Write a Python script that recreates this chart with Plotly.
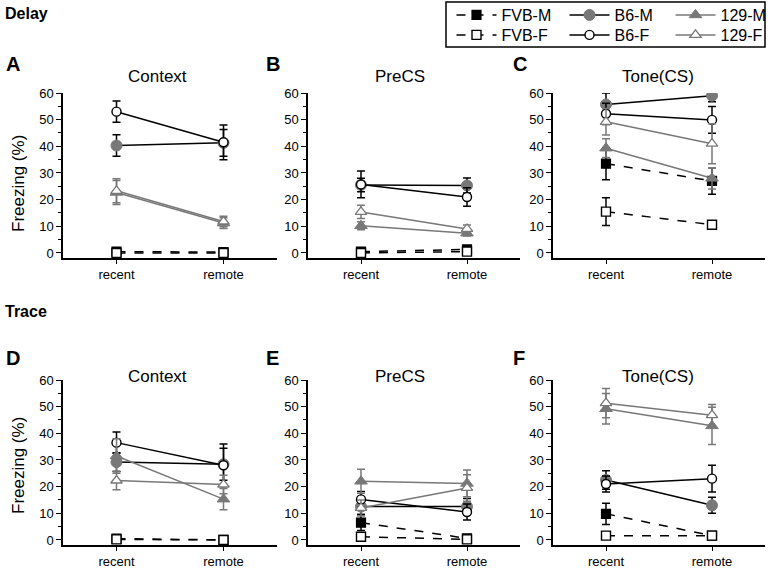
import plotly.graph_objects as go

W, H = 774, 568

# ---------------- data ----------------
phases = ["recent", "remote"]
groups = ["FVB-M", "FVB-F", "B6-M", "B6-F", "129-M", "129-F"]
panel_titles = ["Context", "PreCS", "Tone(CS)", "Context", "PreCS", "Tone(CS)"]
panel_letters = ["A", "B", "C", "D", "E", "F"]

# mean freezing (%) [recent, remote] per panel A..F
means = {
    "FVB-M": [[0.5, 0.3], [0.5, 1.3], [33.5, 27.0], [0.5, 0.0], [6.5, 0.6], [9.8, 1.6]],
    "FVB-F": [[0.0, 0.0], [0.0, 0.5], [15.5, 10.6], [0.2, 0.0], [1.2, 0.2], [1.6, 1.6]],
    "B6-M":  [[40.3, 41.3], [25.5, 25.3], [55.7, 59.0], [29.2, 28.4], [12.5, 12.5], [22.5, 13.0]],
    "B6-F":  [[53.0, 41.5], [25.7, 21.0], [52.2, 49.9], [36.5, 28.0], [15.2, 10.5], [21.0, 23.0]],
    "129-M": [[22.7, 11.2], [10.2, 7.4], [39.3, 28.0], [31.5, 15.3], [22.0, 21.2], [49.2, 42.8]],
    "129-F": [[23.3, 11.8], [15.4, 9.0], [49.2, 41.0], [22.3, 20.8], [12.0, 19.5], [51.3, 46.8]],
}
# s.e.m. [recent, remote]
sems = {
    "FVB-M": [[0.3, 0.3], [0.3, 0.5], [6.0, 5.0], [0.3, 0.2], [3.0, 0.5], [4.0, 0.5]],
    "FVB-F": [[0.2, 0.2], [0.2, 0.3], [5.2, 1.5], [0.2, 0.2], [0.8, 0.3], [0.5, 0.5]],
    "B6-M":  [[4.0, 5.0], [2.5, 2.8], [4.3, 2.3], [3.5, 6.0], [3.0, 3.0], [3.5, 3.0]],
    "B6-F":  [[4.0, 6.5], [5.0, 3.5], [4.0, 5.0], [4.0, 8.0], [3.0, 3.0], [3.0, 5.0]],
    "129-M": [[4.5, 2.0], [1.5, 1.0], [3.5, 4.0], [6.5, 4.0], [4.5, 5.0], [5.7, 7.0]],
    "129-F": [[4.5, 2.0], [2.5, 1.5], [5.0, 7.5], [3.5, 3.5], [3.0, 5.0], [5.5, 4.0]],
}

y_ticks = [0, 10, 20, 30, 40, 50, 60]

# ---------------- styles ----------------
GRAY = "#787878"
BLACK = "#000000"
style = {
    "FVB-M": dict(line=dict(color=BLACK, width=1.5, dash="dash"),
                  marker=dict(symbol="square", size=9, color=BLACK, line=dict(color=BLACK, width=1.2)),
                  ecol=BLACK, leg="legend", lw=58),
    "FVB-F": dict(line=dict(color=BLACK, width=1.5, dash="dash"),
                  marker=dict(symbol="square", size=9, color="white", line=dict(color=BLACK, width=1.4)),
                  ecol=BLACK, leg="legend2", lw=58),
    "B6-M": dict(line=dict(color=BLACK, width=1.5),
                 marker=dict(symbol="circle", size=11, color=GRAY, line=dict(color=GRAY, width=1)),
                 ecol=BLACK, leg="legend", lw=51),
    "B6-F": dict(line=dict(color=BLACK, width=1.5),
                 marker=dict(symbol="circle", size=9, color="white", line=dict(color=BLACK, width=1.4)),
                 ecol=BLACK, leg="legend2", lw=51),
    "129-M": dict(line=dict(color=GRAY, width=1.5),
                  marker=dict(symbol="triangle-up", size=11, color=GRAY, line=dict(color=GRAY, width=1)),
                  ecol=GRAY, leg="legend", lw=55),
    "129-F": dict(line=dict(color=GRAY, width=1.5),
                  marker=dict(symbol="triangle-up", size=10, color="white", line=dict(color=GRAY, width=1.3)),
                  ecol=GRAY, leg="legend2", lw=55),
}
legend_order = {"FVB-M": 1, "B6-M": 2, "129-M": 3, "FVB-F": 1, "B6-F": 2, "129-F": 3}

# ---------------- layout geometry (pixels) ----------------
x_spans = [(63, 277), (308, 520), (553, 765)]
row_spans = [(93, 258), (380, 545)]   # (top=60, bottom axis line)
yrange = [[-1.9, 60], [-1.9, 60]]

FONT = "Liberation Sans, Arial, Helvetica, sans-serif"
fig = go.Figure()
layout = dict(
    width=W, height=H, margin=dict(l=0, r=0, t=0, b=0, autoexpand=False),
    paper_bgcolor="white", plot_bgcolor="white",
    font=dict(family=FONT, color="black", size=13),
)

for p in range(6):
    r, c = divmod(p, 3)
    xs = x_spans[c]
    ys = row_spans[r]
    ax = "" if p == 0 else str(p + 1)
    layout["xaxis" + ax] = dict(
        domain=[xs[0] / W, xs[1] / W], range=[-0.5, 1.5],
        anchor="y" + ax, showline=True, linecolor="black", linewidth=1.5,
        ticks="outside", ticklen=4, tickwidth=1, tickcolor="black",
        tickvals=[0, 1], ticktext=phases, showgrid=False, zeroline=False,
        tickfont=dict(size=13), fixedrange=True, automargin=False,
    )
    layout["yaxis" + ax] = dict(
        domain=[1 - ys[1] / H, 1 - ys[0] / H], range=yrange[r],
        anchor="x" + ax, showline=True, linecolor="black", linewidth=1.5,
        ticks="outside", ticklen=5, tickwidth=1, tickcolor="black",
        tickvals=y_ticks, showgrid=False, zeroline=False,
        minor=dict(dtick=5, tick0=0, ticks="outside", ticklen=3, tickcolor="black", tickwidth=1, showgrid=False),
        tickfont=dict(size=13), fixedrange=True, automargin=False,
    )
    for g in groups:
        st = style[g]
        fig.add_trace(go.Scatter(
            x=[0, 1], y=means[g][p], mode="lines+markers",
            name=g, legend=st["leg"], showlegend=(p == 0),
            legendrank=legend_order[g], legendwidth=st["lw"],
            line=st["line"], marker=st["marker"],
            error_y=dict(type="data", array=sems[g][p], visible=True,
                         color=st["ecol"], thickness=1.5, width=4),
            xaxis="x" + ax, yaxis="y" + ax,
        ))

annotations = []
title_y = [77, 376]
letter_y = [64, 358]
letter_x = [4, 264, 511]
for p in range(6):
    r, c = divmod(p, 3)
    cx = [157, 400, 658][c]
    annotations.append(dict(text=panel_titles[p], x=cx / W, y=1 - title_y[r] / H,
                            xref="paper", yref="paper", showarrow=False,
                            xanchor="center", yanchor="middle", font=dict(size=17)))
    annotations.append(dict(text="<b>" + panel_letters[p] + "</b>", x=letter_x[c] / W, y=1 - letter_y[r] / H,
                            xref="paper", yref="paper", showarrow=False,
                            xanchor="left", yanchor="middle", font=dict(size=20)))
for txt, yy in [("Delay", 14), ("Trace", 311)]:
    annotations.append(dict(text="<b>" + txt + "</b>", x=3 / W, y=1 - yy / H,
                            xref="paper", yref="paper", showarrow=False,
                            xanchor="left", yanchor="middle", font=dict(size=16)))
for yy in [184, 466]:
    annotations.append(dict(text="Freezing (%)", x=18 / W, y=1 - yy / H,
                            xref="paper", yref="paper", showarrow=False, textangle=-90,
                            xanchor="center", yanchor="middle", font=dict(size=17)))
layout["annotations"] = annotations

leg_common = dict(
    orientation="h", x=451.5 / W, xanchor="left", yanchor="middle",
    borderwidth=0, bgcolor="rgba(0,0,0,0)",
    font=dict(size=16), itemwidth=40, traceorder="normal",
)
layout["legend"] = dict(leg_common, y=1 - 15 / H)
layout["legend2"] = dict(leg_common, y=1 - 35 / H)
layout["shapes"] = [dict(type="rect", xref="paper", yref="paper",
                         x0=446 / W, x1=765 / W, y0=1 - 47 / H, y1=1 - 2 / H,
                         line=dict(color="black", width=1.5), fillcolor="rgba(0,0,0,0)")]

fig.update_layout(**layout)
fig.write_html("out.html", config={"displayModeBar": False},
               post_script="document.body.style.margin='0';document.body.style.padding='0';")
